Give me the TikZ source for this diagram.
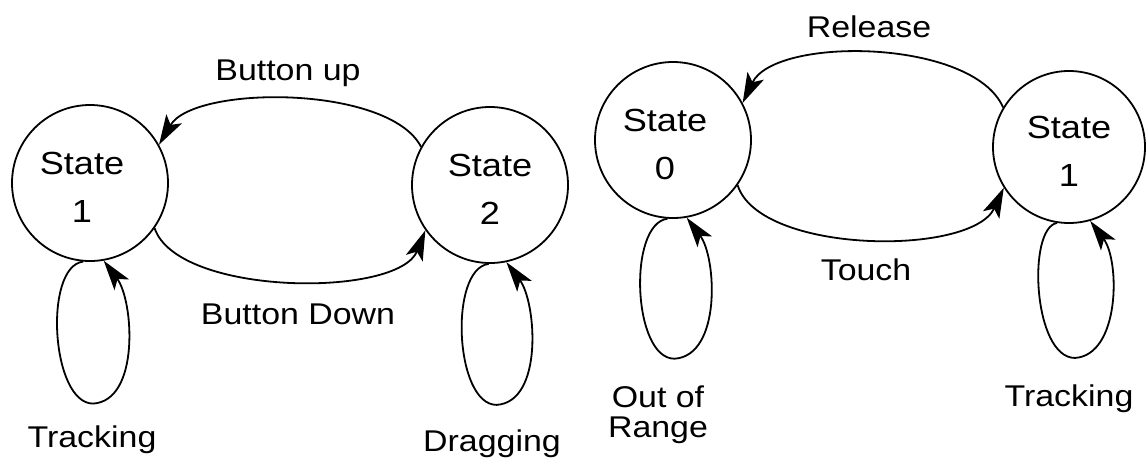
\documentclass[tikz,border=0pt]{standalone}
\usepackage{fontspec}
\setmainfont{Liberation Sans}
\usetikzlibrary{arrows.meta}
\newcommand\myxs[1]{\scalebox{1.13}[1]{#1}}
\newcommand\stl[2]{\rule{0pt}{31pt}\hspace*{#1}\myxs{State}\\\hspace*{#1}\myxs{#2}}
\tikzset{
  statenode/.style={circle,draw,line width=1.8pt,minimum size=156pt,inner sep=0pt,align=center,font=\fontsize{32}{48}\selectfont},
  conn/.style={line width=1.8pt,arrows={-Stealth[length=30pt,width=18pt,inset=7pt]}},
  lbl/.style={font=\fontsize{30}{30}\selectfont,anchor=base,inner sep=0pt,align=center}}
\begin{document}
\begin{tikzpicture}[x=1pt,y=-1pt]
\useasboundingbox (0,0) rectangle (1146,461);
% left diagram
\node[statenode] (s1) at (90,183) {\stl{-16pt}{1}};
\node[statenode] (s2) at (490,185) {\stl{0pt}{2}};
% right diagram
\node[statenode] (s0) at (673,140) {\stl{-16pt}{0}};
\node[statenode,minimum size=152pt] (s1b) at (1069,147) {\stl{0pt}{1}};
% arcs
\draw[conn] (s2.151) .. controls +(-32,-62) and +(35,-60) .. (s1.29);
\draw[conn] (s1.-35) .. controls +(23,68) and +(-27,68) .. (s2.215);
\draw[conn] (s1b.149) .. controls +(-30,-69) and +(32,-67) .. (s0.28);
\draw[conn] (s0.-35) .. controls +(22,69) and +(-32,69) .. (s1b.212);
% loops
\draw[conn] (s1.-95) .. controls +(-40,5) and +(-42,0) .. ++(10,142) .. controls +(47,-3) and +(30,40) .. (s1.-80);
\draw[conn] (s2.-91) .. controls +(-40,5) and +(-42,0) .. ++(8,141) .. controls +(47,-3) and +(30,40) .. (s2.-78);
\draw[conn] (s0.-94) .. controls +(-40,5) and +(-42,0) .. ++(7,140) .. controls +(47,-3) and +(30,40) .. (s0.-80);
\draw[conn] (s1b.-99) .. controls +(-30,5) and +(-42,0) .. ++(18,135) .. controls +(45,-3) and +(30,40) .. (s1b.-74);
% labels
\node[lbl] (lbu) at (288,80) {\myxs{Button up}};
\node[lbl] (lbd) at (298,324) {\myxs{Button Down}};
\node[lbl] (lrel) at (869,37) {\myxs{Release}};
\node[lbl] (ltou) at (866,280) {\myxs{Touch}};
\node[lbl] (ltr1) at (92,447) {\myxs{Tracking}};
\node[lbl] (ldrag) at (492,451) {\myxs{Dragging}};
\node[lbl,anchor=center] (lout) at (658,415) {\myxs{Out of}\\\myxs{Range}};
\node[lbl] (ltr2) at (1069,406) {\myxs{Tracking}};
\end{tikzpicture}
\end{document}
